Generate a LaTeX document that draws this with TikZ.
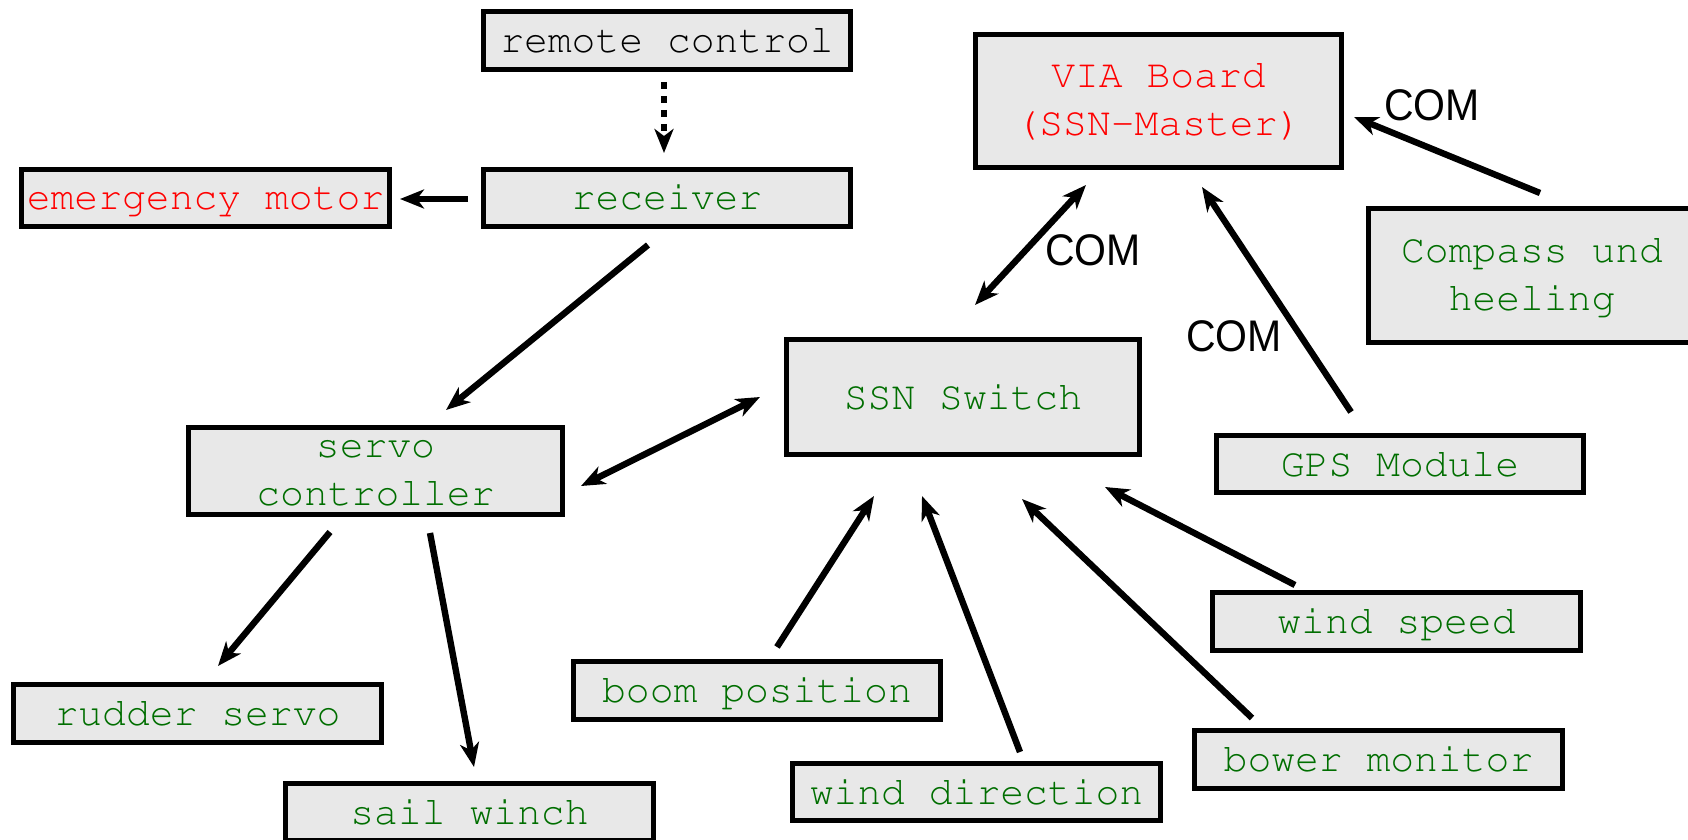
\documentclass[tikz,border=0pt]{standalone}
\usepackage[T1]{fontenc}
\usepackage{fontspec}
\setmainfont{Liberation Serif}
\setmonofont{Liberation Mono}
\setsansfont{Liberation Sans}
\usetikzlibrary{arrows.meta}
\definecolor{boxfill}{RGB}{232,232,232}
\definecolor{labgreen}{RGB}{0,110,0}
% struts that fix the baseline of every box label
\newcommand\bxs{\rule[-4.5pt]{0pt}{21pt}}
\newcommand\bxt{\rule{0pt}{15pt}}
% Courier for the box labels
\newcommand\boxfont{\fontencoding{T1}\fontfamily{pcr}\fontseries{m}\fontshape{n}\fontsize{19.85}{24}\selectfont}

\begin{document}
\begin{tikzpicture}[x=0.5pt,y=-0.5pt,
  unit/.style={draw=black, line width=2.5pt, fill=boxfill, inner sep=0pt,
    minimum width=183.6pt, minimum height=28.6pt,
    font=\boxfont, align=center, text=labgreen},
  link/.style={line width=3.2pt, -{Stealth[length=12pt,width=9.5pt,inset=3.5pt]}},
  duplex/.style={line width=3.2pt, {Stealth[length=12pt,width=9.5pt,inset=3.5pt]}-{Stealth[length=12pt,width=9.5pt,inset=3.5pt]}},
  radio/.style={link, dash pattern=on 3.5pt off 3.5pt},
  comlabel/.style={font=\sffamily\fontsize{20.5}{24}\selectfont, inner sep=0pt, yscale=1.08}
]
\useasboundingbox (0,0) rectangle (1688,840);
\clip (0,0) rectangle (1688,840);

% boxes
\node[unit, text=black] (remote) at (667,40.5) {remote control\bxs};
\node[unit] (receiver) at (667,198) {receiver\bxs};
\node[unit, text=red] (emergency) at (205.5,198) {emergency motor\bxs};
\node[unit, text=red, minimum width=183.1pt, minimum height=66.6pt] (via) at (1158.5,101) {\bxt VIA Board\\(SSN-Master)\bxs};
\node[unit, minimum width=163.6pt, minimum height=67.1pt] (compass) at (1532,275.5) {\bxt Compass und\\heeling\bxs};
\node[unit, minimum width=176.6pt, minimum height=57.6pt] (ssn) at (963,397) {SSN Switch\bxs};
\node[unit] (gps) at (1400,464) {GPS Module\bxs};
\node[unit, minimum width=187.1pt, minimum height=43.6pt] (servo) at (375.5,471) {\bxt servo\\controller\bxs};
\node[unit] (rudder) at (197.5,713.5) {rudder servo\bxs};
\node[unit] (winch) at (469.5,812) {sail winch\bxs};
\node[unit] (boom) at (757,690.5) {boom position\bxs};
\node[unit] (winddir) at (976.5,792) {wind direction\bxs};
\node[unit] (windspd) at (1396.5,621.5) {wind speed\bxs};
\node[unit] (bower) at (1378.5,759.5) {bower monitor\bxs};

% bus labels
\node[comlabel] (com1) at (1432,105) {COM};
\node[comlabel] (com2) at (1093,250) {COM};
\node[comlabel] (com3) at (1234,336) {COM};

% connections
\draw[radio] ([shift={(-3,41.5)}]remote.center) -- ([shift={(-3,-45)}]receiver.center);
\draw[link] ([shift={(-199,1)}]receiver.center) -- ([shift={(194.5,1)}]emergency.center);
\draw[link] ([shift={(-19,47)}]receiver.center) -- ([shift={(70.5,-61)}]servo.center);
\draw[duplex] ([shift={(-203,0)}]ssn.center) -- ([shift={(205.5,15)}]servo.center);
\draw[link] ([shift={(-45.5,61)}]servo.center) -- ([shift={(20.5,-47.5)}]rudder.center);
\draw[link] ([shift={(54.5,62)}]servo.center) -- ([shift={(4.5,-45)}]winch.center);
\draw[duplex] ([shift={(12,-92)}]ssn.center) -- ([shift={(-72.5,84)}]via.center);
\draw[link] ([shift={(-49,-52)}]gps.center) -- ([shift={(43.5,86)}]via.center);
\draw[link] ([shift={(8,-82.5)}]compass.center) -- ([shift={(195.5,16)}]via.center);
\draw[link] ([shift={(20,-43.5)}]boom.center) -- ([shift={(-89,99)}]ssn.center);
\draw[link] ([shift={(43.5,-40)}]winddir.center) -- ([shift={(-41,99)}]ssn.center);
\draw[link] ([shift={(-126.5,-41.5)}]bower.center) -- ([shift={(59,102)}]ssn.center);
\draw[link] ([shift={(-101.5,-36.5)}]windspd.center) -- ([shift={(142,90)}]ssn.center);
\end{tikzpicture}
\end{document}
